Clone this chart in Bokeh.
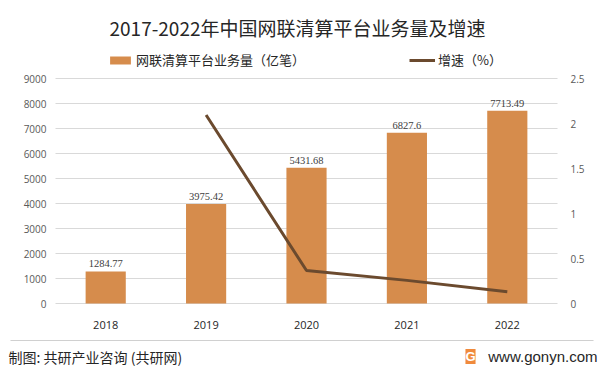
from bokeh.plotting import figure
from bokeh.models import (ColumnDataSource, Range1d, LinearAxis, FixedTicker, Label,
                          LabelSet, Legend, LegendItem, BoxAnnotation, Grid)
from bokeh.embed import file_html
from bokeh.resources import INLINE

years = ["2018", "2019", "2020", "2021", "2022"]
volume = [1284.77, 3975.42, 5431.68, 6827.6, 7713.49]
growth_years = ["2019", "2020", "2021", "2022"]
growth = [2.094, 0.366, 0.257, 0.130]
left_ticks = [0, 1000, 2000, 3000, 4000, 5000, 6000, 7000, 8000, 9000]
right_ticks = [0, 0.5, 1, 1.5, 2, 2.5]

title_text = "2017-2022年中国网联清算平台业务量及增速"
bar_name = "网联清算平台业务量（亿笔）"
line_name = "增速（%）"
footer_left = "制图: 共研产业咨询 (共研网)"
footer_right = "www.gonyn.com"

CJK = "Noto Sans CJK SC"
NUM = "Open Sans"
BAR_C = "#D68C4C"
LINE_C = "#6B4A2E"

W, H = 599, 372
# layout of the plotting area in canvas pixels
PX_LEFT, PX_RIGHT, PY_TOP, PY_ZERO = 55.0, 557.0, 78.0, 303.0
n = len(years)
slot = (PX_RIGHT - PX_LEFT) / n
x0_px = PX_LEFT + slot / 2
x_start = -x0_px / slot
x_end = (W - x0_px) / slot
ymax_l, ymax_r = left_ticks[-1], right_ticks[-1]
per_px_l = ymax_l / (PY_ZERO - PY_TOP)
per_px_r = ymax_r / (PY_ZERO - PY_TOP)

p = figure(width=W, height=H,
           x_range=Range1d(x_start, x_end),
           y_range=Range1d(-(H - PY_ZERO) * per_px_l, ymax_l + PY_TOP * per_px_l),
           output_backend="svg", toolbar_location=None, min_border=0)
p.outline_line_color = None
p.background_fill_color = "white"
p.border_fill_color = "white"
p.xgrid.visible = False
p.ygrid.visible = False

xs = [years.index(y) for y in years]
src = ColumnDataSource(dict(x=xs, y=volume, t=[str(v) for v in volume]))
p.extra_y_ranges = {"r": Range1d(-(H - PY_ZERO) * per_px_r, ymax_r + PY_TOP * per_px_r)}

# horizontal grid lines limited to the plot area
g = Grid(dimension=1, ticker=FixedTicker(ticks=left_ticks), grid_line_color="#d9d9d9")
if "cross_bounds" in Grid.properties():
    g.cross_bounds = (-0.5, n - 0.5)
    p.add_layout(g)
else:
    p.segment(x0=[-0.5] * len(left_ticks), x1=[n - 0.5] * len(left_ticks),
              y0=left_ticks, y1=left_ticks, line_color="#d9d9d9", line_width=1)

bars = p.vbar(x="x", top="y", width=0.4, source=src, fill_color=BAR_C, line_color=None)
lsrc = ColumnDataSource(dict(x=[years.index(y) for y in growth_years], y=growth))
line = p.line(x="x", y="y", source=lsrc, y_range_name="r", line_color=LINE_C, line_width=3)

p.add_layout(LabelSet(x="x", y="y", text="t", source=src, text_align="center",
                      text_baseline="bottom", y_offset=4, text_font_size="10.5px",
                      text_color="#404040", text_font=NUM))

ax_style = dict(axis_line_color=None, major_tick_line_color=None, minor_tick_line_color=None,
                major_label_text_font_size="10px", major_label_text_color="#595959",
                major_label_text_font=NUM)
yl = p.yaxis[0]
yl.ticker = FixedTicker(ticks=left_ticks)
yl.fixed_location = -0.5
for k, v in ax_style.items():
    setattr(yl, k, v)
yl.major_label_standoff = 3
ra = LinearAxis(y_range_name="r", ticker=FixedTicker(ticks=right_ticks), fixed_location=n - 0.5)
for k, v in ax_style.items():
    setattr(ra, k, v)
ra.major_label_standoff = 7
p.add_layout(ra, "right")
xa = p.xaxis[0]
xa.ticker = FixedTicker(ticks=xs)
xa.major_label_overrides = {i: y for i, y in zip(xs, years)}
xa.fixed_location = 0
for k, v in ax_style.items():
    setattr(xa, k, v)
xa.major_label_text_color = "#262626"
xa.major_label_text_font_size = "11px"
xa.major_label_standoff = 11

legend = Legend(items=[LegendItem(label=bar_name, renderers=[bars]),
                       LegendItem(label=line_name, renderers=[line])],
                orientation="horizontal", location=(107, 303), padding=0, margin=0,
                spacing=104, glyph_width=26, glyph_height=10, label_standoff=3,
                border_line_alpha=0, background_fill_alpha=0,
                label_text_font=CJK, label_text_font_size="13px", label_text_color="#262626")
p.add_layout(legend, "center")

p.add_layout(Label(x=297, y=H - 27, x_units="screen", y_units="screen", text=title_text,
                   text_align="center", text_baseline="middle", text_font=CJK,
                   text_font_size="19px", text_color="#262626"))

p.add_layout(BoxAnnotation(left=10, right=593, bottom=H - 340.5, top=H - 339.5,
                           left_units="screen", right_units="screen", top_units="screen",
                           bottom_units="screen", fill_color="#d0d0d0", fill_alpha=1,
                           line_color=None))
p.add_layout(Label(x=8, y=H - 356, x_units="screen", y_units="screen", text=footer_left,
                   text_align="left", text_baseline="middle", text_font=CJK,
                   text_font_size="14px", text_color="#262626"))
p.add_layout(Label(x=597, y=H - 356, x_units="screen", y_units="screen", text=footer_right,
                   text_align="right", text_baseline="middle", text_font="Liberation Sans",
                   text_font_size="15px", text_color="#262626"))
p.add_layout(Label(x=470, y=H - 356, x_units="screen", y_units="screen", text="G",
                   text_align="center", text_baseline="middle", text_font="Liberation Sans",
                   text_font_style="bold", text_font_size="13px", text_color="white",
                   background_fill_color="#F08A3C", border_line_color=None))

open("out.html", "w").write(file_html(p, INLINE))
